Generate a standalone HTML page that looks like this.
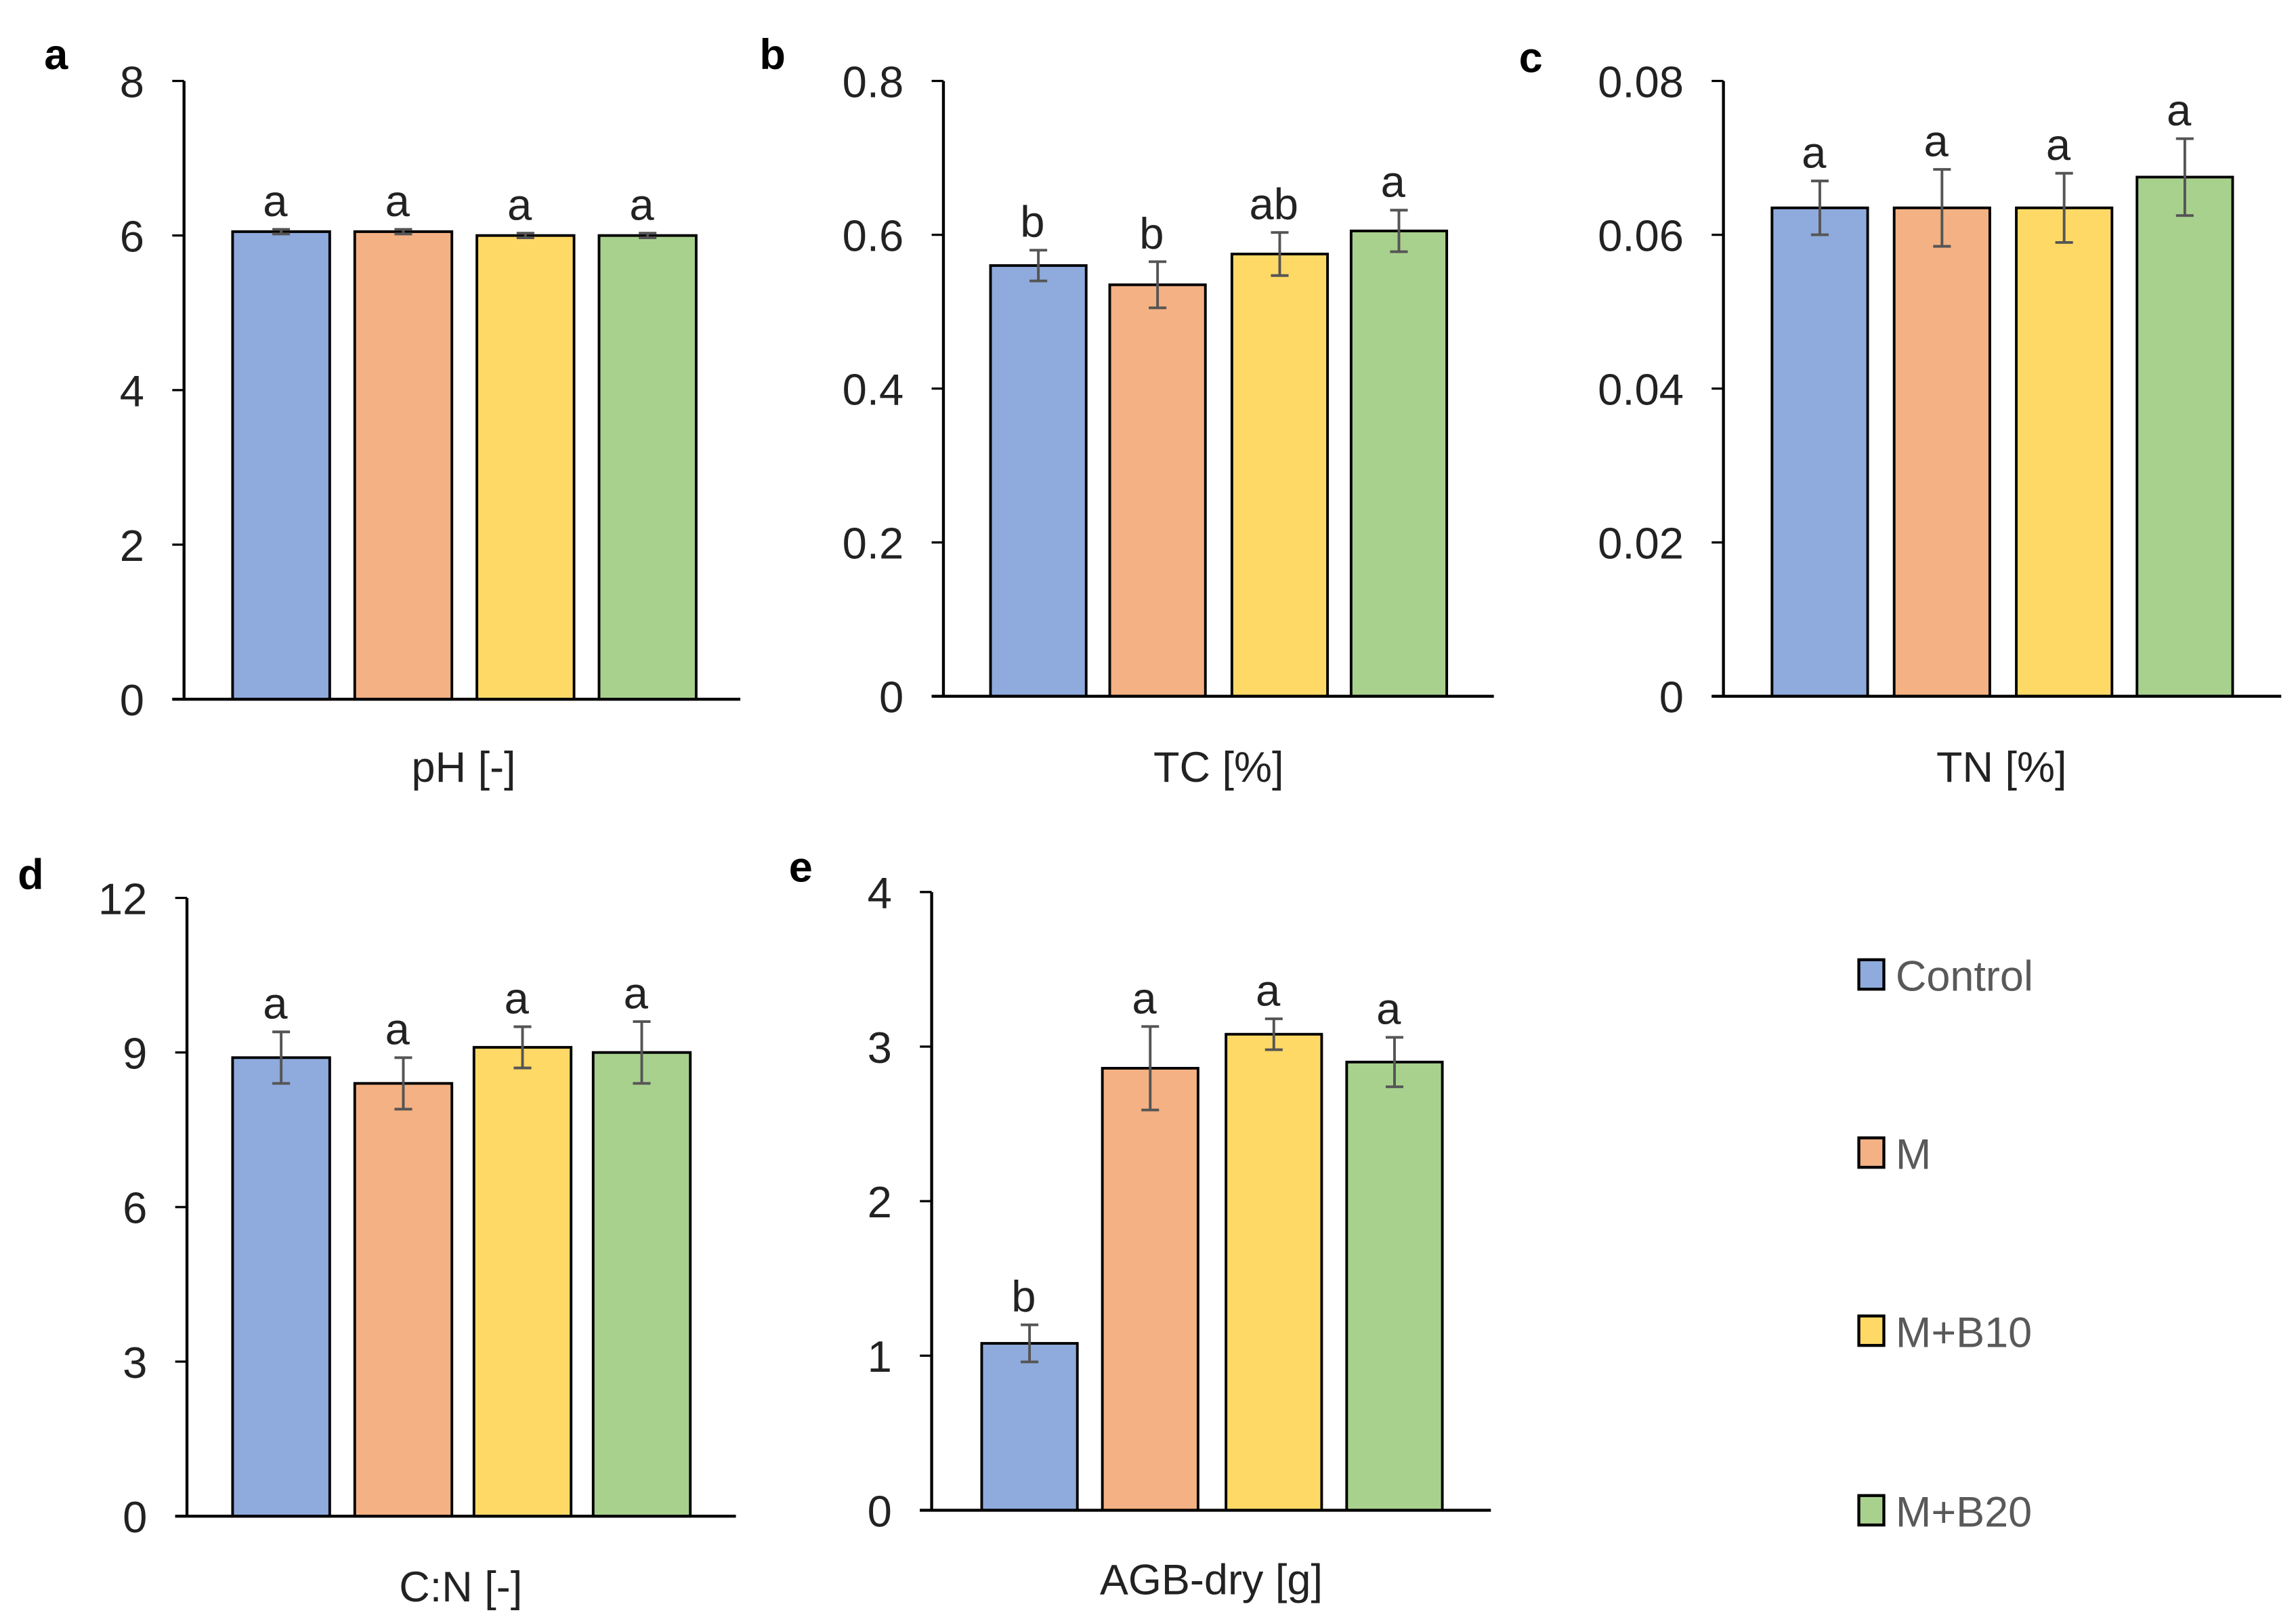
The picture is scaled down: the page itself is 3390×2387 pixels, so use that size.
<!DOCTYPE html>
<html><head><meta charset="utf-8"><style>
html,body{margin:0;padding:0;background:#fff;}
svg{display:block;font-family:"Liberation Sans",sans-serif;}
</style></head><body>
<svg id="fig" width="3390" height="2387" viewBox="0 0 1560 1098.5" xmlns="http://www.w3.org/2000/svg"></svg>
<script>
const groups = ["Control","M","M+B10","M+B20"];
const colors = ["#8FAADC","#F4B183","#FFD966","#A9D18E"];
const phVals = [6.05,6.05,6.0,6.0];
const phErr = [0.03,0.03,0.03,0.03];
const phLet = ["a","a","a","a"];
const tcVals = [0.56,0.535,0.575,0.605];
const tcErr = [0.02,0.03,0.028,0.027];
const tcLet = ["b","b","ab","a"];
const tnVals = [0.0635,0.0635,0.0635,0.0675];
const tnErr = [0.0035,0.005,0.0045,0.005];
const tnLet = ["a","a","a","a"];
const cnVals = [8.9,8.4,9.1,9.0];
const cnErr = [0.5,0.5,0.4,0.6];
const cnLet = ["a","a","a","a"];
const agbVals = [1.08,2.86,3.08,2.9];
const agbErr = [0.12,0.27,0.1,0.16];
const agbLet = ["b","a","a","a"];
const phTicks = ["0","2","4","6","8"];
const tcTicks = ["0","0.2","0.4","0.6","0.8"];
const tnTicks = ["0","0.02","0.04","0.06","0.08"];
const cnTicks = ["0","3","6","9","12"];
const agbTicks = ["0","1","2","3","4"];

const NS="http://www.w3.org/2000/svg";
const svg=document.getElementById('fig');
function mk(tag,attrs,parent,text){const e=document.createElementNS(NS,tag);for(const k in attrs)e.setAttribute(k,attrs[k]);if(text!==undefined)e.textContent=text;(parent||svg).appendChild(e);return e;}

const panels=[
 {id:"ph",letter:"a",lx:30,ly:47,ax:125,top:55,zero:475,end:503,bars:[158,241,324,407],bw:66,vals:phVals,err:phErr,let:phLet,ticks:phTicks,max:8,title:"pH [-]",tx:315,ty:531},
 {id:"tc",letter:"b",lx:516,ly:47,ax:641,top:55,zero:473,end:1015,bars:[673,754,837,918],bw:65,vals:tcVals,err:tcErr,let:tcLet,ticks:tcTicks,max:0.8,title:"TC [%]",tx:828,ty:531},
 {id:"tn",letter:"c",lx:1032,ly:49,ax:1171,top:55,zero:473,end:1550,bars:[1204,1287,1370,1452],bw:65,vals:tnVals,err:tnErr,let:tnLet,ticks:tnTicks,max:0.08,title:"TN [%]",tx:1360,ty:531},
 {id:"cn",letter:"d",lx:12,ly:604,ax:127,top:610,zero:1030,end:500,bars:[158,241,322,403],bw:66,vals:cnVals,err:cnErr,let:cnLet,ticks:cnTicks,max:12,title:"C:N [-]",tx:313,ty:1088},
 {id:"agb",letter:"e",lx:536,ly:599,ax:633,top:606,zero:1026,end:1013,bars:[667,749,833,915],bw:65,vals:agbVals,err:agbErr,let:agbLet,ticks:agbTicks,max:4,title:"AGB-dry  [g]",tx:823,ty:1083}
];

panels.forEach(p=>{
 const g=mk('g',{});
 
 
 const y=v=>p.zero-(v/p.max)*(p.zero-p.top);
 const pl=mk('text',{x:p.lx,y:p.ly,'font-size':29,'font-weight':'bold',fill:'#000'},g,p.letter);
 
 
 p.ticks.forEach((t,i)=>{
  const v=p.max*i/(p.ticks.length-1);
  const yy=y(v);
  mk('line',{x1:p.ax-8,x2:p.ax,y1:yy,y2:yy,stroke:'#000','stroke-width':1.5},g);
  const tl=mk('text',{x:p.ax-27,y:yy+11,'font-size':30,'text-anchor':'end',fill:'#222'},g,t);
  
  
 });
 p.vals.forEach((v,i)=>{
  const x=p.bars[i], yy=y(v);
  const r=mk('rect',{x:x,y:yy,width:p.bw,height:p.zero-yy,fill:colors[i],stroke:'#000','stroke-width':1.8},g);
  
  
  const cx=x+p.bw/2, e1=y(v+p.err[i]), e2=y(v-p.err[i]);
  const eb=mk('path',{d:`M${cx},${e1}V${e2}M${cx-6},${e1}H${cx+6}M${cx-6},${e2}H${cx+6}`,stroke:'#555','stroke-width':1.8,fill:'none'},g);
  
  
  const lt=mk('text',{x:cx-4,y:e1-9,'font-size':30,'text-anchor':'middle',fill:'#222'},g,p.let[i]);
  
  
 });
 mk('line',{x1:p.ax,x2:p.ax,y1:p.top,y2:p.zero,stroke:'#000','stroke-width':2},g);
 mk('line',{x1:p.ax-8,x2:p.end,y1:p.zero,y2:p.zero,stroke:'#000','stroke-width':2},g);
 const at=mk('text',{x:p.tx,y:p.ty,'font-size':29,'text-anchor':'middle',fill:'#222'},g,p.title);
 
 
});

const legY=[662,783,904,1026];
groups.forEach((n,i)=>{
 const g=mk('g',{});
 
 
 mk('rect',{x:1263,y:legY[i]-10,width:17,height:20,fill:colors[i],stroke:'#000','stroke-width':2},g);
 mk('text',{x:1288,y:legY[i]+11,'font-size':29,fill:'#595959'},g,n);
});
</script>
</body></html>
